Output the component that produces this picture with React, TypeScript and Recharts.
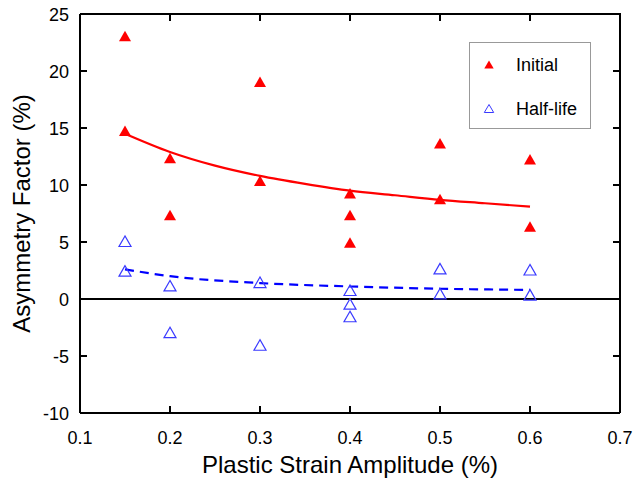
import { ComposedChart, Scatter, Line, XAxis, YAxis, ReferenceLine } from 'recharts'

// values
const xTicks = [0.1, 0.2, 0.3, 0.4, 0.5, 0.6, 0.7]
const yTicks = [-10, -5, 0, 5, 10, 15, 20, 25]

const initialPoints = [
  { x: 0.15, y: 23.0 },
  { x: 0.15, y: 14.7 },
  { x: 0.2, y: 12.3 },
  { x: 0.2, y: 7.3 },
  { x: 0.3, y: 19.0 },
  { x: 0.3, y: 10.3 },
  { x: 0.4, y: 9.2 },
  { x: 0.4, y: 7.3 },
  { x: 0.4, y: 4.9 },
  { x: 0.5, y: 13.6 },
  { x: 0.5, y: 8.7 },
  { x: 0.6, y: 12.2 },
  { x: 0.6, y: 6.3 },
]

const halfLifePoints = [
  { x: 0.15, y: 5.0 },
  { x: 0.15, y: 2.4 },
  { x: 0.2, y: 1.1 },
  { x: 0.2, y: -3.0 },
  { x: 0.3, y: 1.4 },
  { x: 0.3, y: -4.1 },
  { x: 0.4, y: 0.7 },
  { x: 0.4, y: -0.5 },
  { x: 0.4, y: -1.6 },
  { x: 0.5, y: 2.6 },
  { x: 0.5, y: 0.4 },
  { x: 0.6, y: 2.5 },
  { x: 0.6, y: 0.3 },
]

const initialFit = [
  { x: 0.15, y: 14.5 },
  { x: 0.2, y: 12.9 },
  { x: 0.25, y: 11.7 },
  { x: 0.3, y: 10.8 },
  { x: 0.35, y: 10.1 },
  { x: 0.4, y: 9.5 },
  { x: 0.45, y: 9.1 },
  { x: 0.5, y: 8.7 },
  { x: 0.55, y: 8.4 },
  { x: 0.6, y: 8.1 },
]

const halfLifeFit = [
  { x: 0.15, y: 2.6 },
  { x: 0.2, y: 2.0 },
  { x: 0.3, y: 1.4 },
  { x: 0.4, y: 1.1 },
  { x: 0.5, y: 0.9 },
  { x: 0.6, y: 0.8 },
]

const legendItems = ['Initial', 'Half-life']

const X_MIN = xTicks[0]
const X_MAX = xTicks[xTicks.length - 1]
const Y_MIN = yTicks[0]
const Y_MAX = yTicks[yTicks.length - 1]

// top + right edges of the box, drawn through the axis scales
const frameTopRight = [
  { x: X_MIN, y: Y_MAX },
  { x: X_MAX, y: Y_MAX },
  { x: X_MAX, y: Y_MIN },
]

// inward tick marks on all four sides
const tickMarks = [
  ...xTicks.map((x) => ({ x, y: Y_MIN, side: 'bottom' })),
  ...xTicks.map((x) => ({ x, y: Y_MAX, side: 'top' })),
  ...yTicks.map((y) => ({ x: X_MIN, y, side: 'left' })),
  ...yTicks.map((y) => ({ x: X_MAX, y, side: 'right' })),
]

const RED = '#ff0000'
const BLUE = '#0000ff'
const BLUE_MARK = '#3a3aff'
const FONT = '"Liberation Sans", Arial, sans-serif'
const TICK_LEN = 7

function FilledTriangle(props: any) {
  const { cx, cy } = props
  return (
    <polygon
      points={`${cx},${cy - 6} ${cx - 6},${cy + 4.5} ${cx + 6},${cy + 4.5}`}
      fill={RED}
    />
  )
}

function OpenTriangle(props: any) {
  const { cx, cy } = props
  return (
    <polygon
      points={`${cx},${cy - 6} ${cx - 6},${cy + 4.5} ${cx + 6},${cy + 4.5}`}
      fill="none"
      stroke={BLUE_MARK}
      strokeWidth={1.2}
    />
  )
}

function TickMark(props: any) {
  const { cx, cy, payload } = props
  const side = payload?.side
  let x2 = cx
  let y2 = cy
  if (side === 'bottom') y2 = cy - TICK_LEN
  if (side === 'top') y2 = cy + TICK_LEN
  if (side === 'left') x2 = cx + TICK_LEN
  if (side === 'right') x2 = cx - TICK_LEN
  return <line x1={cx} y1={cy} x2={x2} y2={y2} stroke="#000" strokeWidth={2} />
}

// tick labels; with tickSize/tickMargin 0 the x/y given sit on the axis line
function BottomTick(props: any) {
  const { x, y, payload } = props
  return (
    <text x={x} y={y + 31} textAnchor="middle" fontSize={18} fontFamily={FONT} fill="#000">
      {Number(payload.value).toFixed(1)}
    </text>
  )
}

function LeftTick(props: any) {
  const { x, y, payload } = props
  return (
    <text x={x - 11} y={y + 7} textAnchor="end" fontSize={18} fontFamily={FONT} fill="#000">
      {String(payload.value)}
    </text>
  )
}

function LegendBox() {
  return (
    <div
      style={{
        position: 'absolute',
        left: 469,
        top: 42,
        width: 120,
        height: 85,
        border: '1px solid #999',
        background: '#fff',
        fontFamily: FONT,
        fontSize: 18,
        color: '#000',
      }}
    >
      {legendItems.map((name, i) => (
        <div
          key={name}
          style={{
            position: 'absolute',
            left: 0,
            top: 10 + i * 44,
            height: 24,
            display: 'flex',
            alignItems: 'center',
          }}
        >
          <svg width={46} height={24}>
            {i === 0 ? (
              <polygon points="19,7.5 14.3,15.5 23.7,15.5" fill={RED} />
            ) : (
              <polygon
                points="19,7.5 14.3,15.5 23.7,15.5"
                fill="none"
                stroke={BLUE_MARK}
                strokeWidth={1}
              />
            )}
          </svg>
          <span>{name}</span>
        </div>
      ))}
    </div>
  )
}

function YTitle(props: any) {
  const { viewBox } = props
  const x = 21.5
  const y = viewBox.y + viewBox.height / 2
  return (
    <text
      x={x}
      y={y}
      transform={`rotate(-90, ${x}, ${y})`}
      textAnchor="middle"
      dominantBaseline="central"
      fontSize={24}
      fontFamily={FONT}
      fill="#000"
    >
      Asymmetry Factor (%)
    </text>
  )
}

export default function App() {
  const axisLine = { stroke: '#000', strokeWidth: 2 }

  return (
    <div style={{ position: 'absolute', left: 0, top: 0, width: 633, height: 482, background: '#fff' }}>
      <ComposedChart width={633} height={482} margin={{ top: 14, right: 13, bottom: 0, left: 10 }}>
        <XAxis
          dataKey="x"
          type="number"
          domain={[X_MIN, X_MAX]}
          ticks={xTicks}
          tickSize={0}
          tickMargin={0}
          height={69}
          tick={BottomTick}
          tickLine={false}
          axisLine={axisLine}
          label={{
            value: 'Plastic Strain Amplitude (%)',
            position: 'insideBottom',
            offset: 9,
            fontSize: 24,
            fill: '#000',
            fontFamily: FONT,
          }}
        />
        <YAxis
          dataKey="y"
          type="number"
          domain={[Y_MIN, Y_MAX]}
          ticks={yTicks}
          width={70}
          tickSize={0}
          tickMargin={0}
          tick={LeftTick}
          tickLine={false}
          axisLine={axisLine}
          label={{ content: YTitle }}
        />
        <ReferenceLine y={0} stroke="#000" strokeWidth={2} />
        <Line
          data={frameTopRight}
          dataKey="y"
          type="linear"
          stroke="#000"
          strokeWidth={2}
          dot={false}
          isAnimationActive={false}
        />
        <Scatter data={tickMarks} dataKey="y" shape={TickMark} isAnimationActive={false} />
        <Line
          data={initialFit}
          dataKey="y"
          type="monotone"
          stroke={RED}
          strokeWidth={2.2}
          dot={false}
          isAnimationActive={false}
        />
        <Line
          data={halfLifeFit}
          dataKey="y"
          type="monotone"
          stroke={BLUE}
          strokeWidth={2.2}
          strokeDasharray="9 6"
          dot={false}
          isAnimationActive={false}
        />
        <Scatter
          name="Initial"
          data={initialPoints}
          dataKey="y"
          shape={FilledTriangle}
          isAnimationActive={false}
        />
        <Scatter
          name="Half-life"
          data={halfLifePoints}
          dataKey="y"
          shape={OpenTriangle}
          isAnimationActive={false}
        />
      </ComposedChart>
      <LegendBox />
    </div>
  )
}
